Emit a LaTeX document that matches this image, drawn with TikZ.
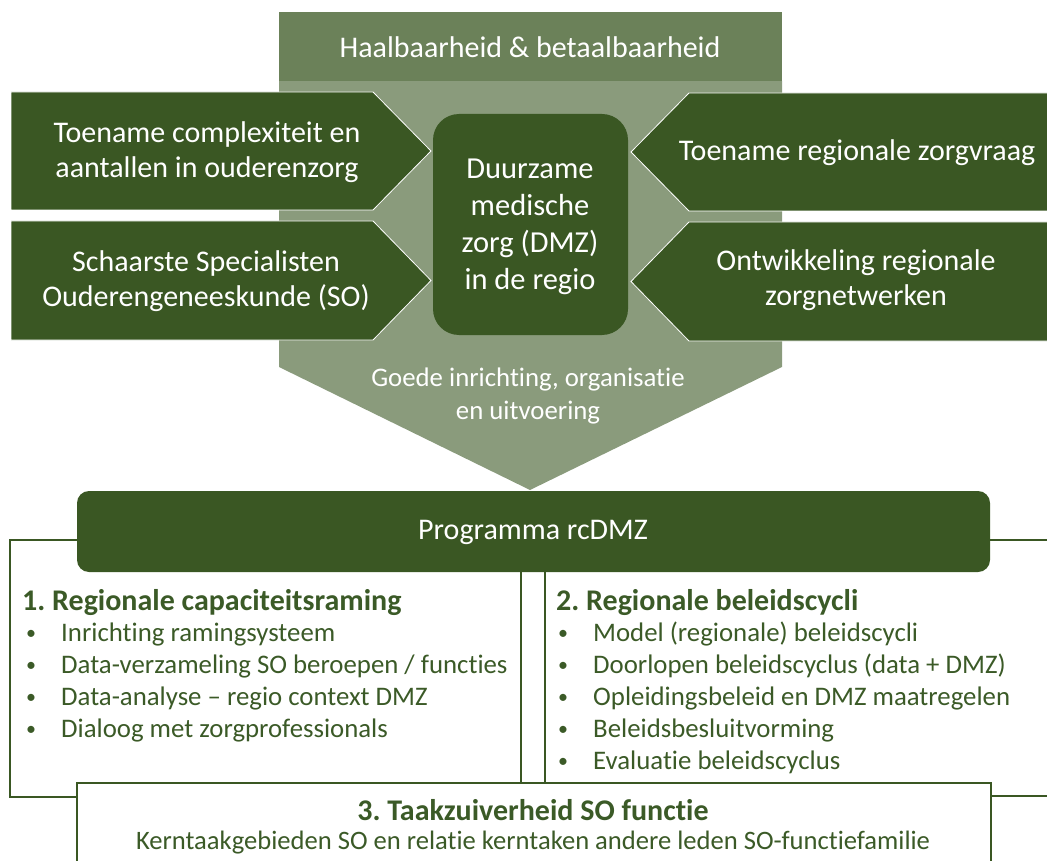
\documentclass[tikz,border=0pt]{standalone}
\usepackage{fontspec}
\setmainfont{Carlito}[Ligatures={TeX,NoCommon}]
\frenchspacing
\definecolor{dkgreen}{HTML}{3A5723}
\definecolor{hdgreen}{HTML}{6B8159}
\definecolor{ltgreen}{HTML}{8A9B7C}
\definecolor{txgreen}{HTML}{3B5A27}
\tikzset{
  wt/.style={text=white, font=\fontsize{30}{35}\selectfont, align=center, inner sep=0pt},
  arrowshape/.style={fill=dkgreen, draw=white, line width=0.8pt},
  frame/.style={draw=dkgreen, line width=1.5pt},
  sechead/.style={text=txgreen, font=\bfseries\fontsize{30}{36}\selectfont, anchor=west, inner sep=0pt, text height=21pt, text depth=7pt},
  itemtxt/.style={text=txgreen, font=\fontsize{26.8}{32}\selectfont, anchor=west, inner sep=0pt, text height=19pt, text depth=6pt},
  bulletmark/.style={text=txgreen, font=\fontsize{20}{24}\selectfont, inner sep=0pt},
}
\begin{document}
\begin{tikzpicture}[x=1pt,y=-1pt]
\useasboundingbox (0,0) rectangle (1047,861);
% background funnel
\fill[ltgreen] (279,81) -- (782,81) -- (782,367) -- (530,490) -- (279,367) -- cycle;
\fill[hdgreen] (279,12) rectangle (782,81);
\node[wt] (hdr) at (530,47) {Haalbaarheid \& betaalbaarheid};
% left arrows
\path[arrowshape] (11,92) -- (373,92) -- (431,151) -- (373,210) -- (11,210) -- cycle;
\path[arrowshape] (11,221) -- (373,221) -- (431,280.5) -- (373,340) -- (11,340) -- cycle;
% right arrows
\path[arrowshape] (1050,93) -- (689,93) -- (631,152) -- (689,211) -- (1050,211) -- cycle;
\path[arrowshape] (1050,222) -- (689,222) -- (631,281.5) -- (689,341) -- (1050,341) -- cycle;
% centre box
\fill[dkgreen, rounded corners=26pt] (433,114) rectangle (628,335);
\node[wt, font=\fontsize{30.5}{37}\selectfont] (dmz) at (530,227) {Duurzame\\medische\\zorg (DMZ)\\in de regio};
\node[wt] (l1) at (207,152) {Toename complexiteit en\\aantallen in ouderenzorg};
\node[wt] (l2) at (206,281) {Schaarste Specialisten\\Ouderengeneeskunde (SO)};
\node[wt] (r1) at (857,153) {Toename regionale zorgvraag};
\node[wt] (r2) at (856,280) {Ontwikkeling regionale\\zorgnetwerken};
\node[wt, font=\fontsize{26.8}{33}\selectfont] (goede) at (528,396) {Goede inrichting, organisatie\\en uitvoering};
% frames
\path[frame] (10,540) rectangle (521,797);
\path[frame] (545,540) rectangle (1060,796);
\fill[dkgreen, rounded corners=12pt] (77,491) rectangle (990,572);
\node[wt] (prog) at (533,532) {Programma rcDMZ};
\path[frame, fill=white] (77,783) rectangle (991,880);
% section 1
\node[sechead] (s1) at (22,603) {1. Regionale capaciteitsraming};
\foreach \t [count=\i] in {Inrichting ramingsysteem, Data-verzameling SO beroepen / functies, Data-analyse -- regio context DMZ, Dialoog met zorgprofessionals} {
  \node[bulletmark] (ba\i) at (31,603+32*\i) {•};
  \node[itemtxt] (ta\i) at (61,603+32*\i) {\t};
}
% section 2
\node[sechead] (s2) at (556,603) {2. Regionale beleidscycli};
\foreach \t [count=\i] in {Model (regionale) beleidscycli, Doorlopen beleidscyclus (data + DMZ), Opleidingsbeleid en DMZ maatregelen, Beleidsbesluitvorming, Evaluatie beleidscyclus} {
  \node[bulletmark] (bb\i) at (563,603+32*\i) {•};
  \node[itemtxt] (tb\i) at (593,603+32*\i) {\t};
}
% section 3
\node[text=txgreen, font=\bfseries\fontsize{30}{35}\selectfont, inner sep=0pt] (s3) at (533,810) {3. Taakzuiverheid SO functie};
\node[text=txgreen, font=\fontsize{26.6}{32}\selectfont, inner sep=0pt] (s3t) at (533,843) {Kerntaakgebieden SO en relatie kerntaken andere leden SO-functiefamilie};
\end{tikzpicture}
\end{document}
